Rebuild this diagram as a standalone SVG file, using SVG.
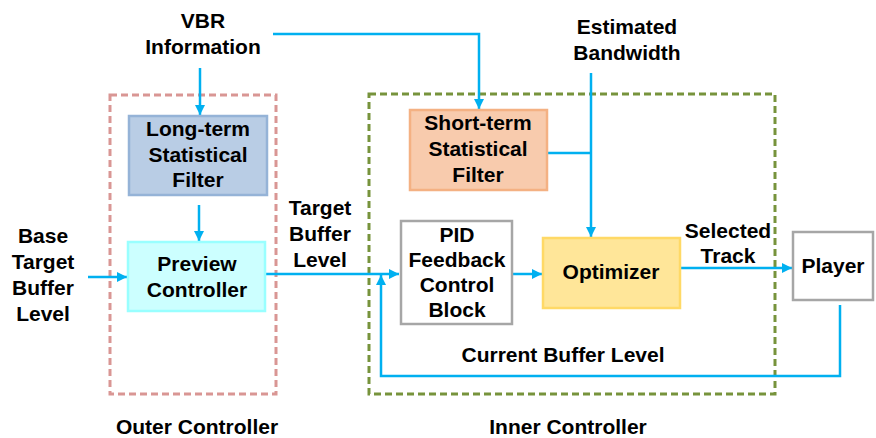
<svg xmlns="http://www.w3.org/2000/svg" width="876" height="438" viewBox="0 0 876 438">
<defs>
<marker id="arr" viewBox="0 0 10 10" refX="10" refY="5" markerWidth="10" markerHeight="11" markerUnits="userSpaceOnUse" orient="auto">
<path d="M0,0 L10,5 L0,10 z" fill="#00B0F0"/>
</marker>
<style>
text{font-family:"Liberation Sans",Arial,sans-serif;font-weight:bold;font-size:21px;fill:#000;text-anchor:middle}
.c{fill:none;stroke:#00B0F0;stroke-width:2.5}
.box{stroke-width:2.5}
</style>
</defs>
<rect width="876" height="438" fill="#fff"/>
<g id="outer-controller">
<rect x="110" y="95" width="166" height="299" fill="none" stroke="#D99694" stroke-width="3" stroke-dasharray="7,4"/>
<text x="197" y="434">Outer Controller</text>
</g>
<g id="inner-controller">
<rect x="369" y="94" width="406" height="300" fill="none" stroke="#77933C" stroke-width="3" stroke-dasharray="7,4"/>
<text x="568" y="434">Inner Controller</text>
</g>
<g id="connectors">
<path class="c" d="M200,68 V115" marker-end="url(#arr)"/>
<path class="c" d="M273,34 H479 V109" marker-end="url(#arr)"/>
<path class="c" d="M199,205 V241" marker-end="url(#arr)"/>
<path class="c" d="M88,277 H127" marker-end="url(#arr)"/>
<path class="c" d="M265,274 H399" marker-end="url(#arr)"/>
<path class="c" d="M512,274 H542" marker-end="url(#arr)"/>
<path class="c" d="M591,73 V237" marker-end="url(#arr)"/>
<path class="c" d="M547,153 H591"/>
<path class="c" d="M680,268 H792" marker-end="url(#arr)"/>
<path class="c" d="M840,305 V376 H381 V275" marker-end="url(#arr)"/>
</g>
<g id="vbr-info">
<text x="203" y="28">VBR</text>
<text x="203" y="54">Information</text>
</g>
<g id="estimated-bandwidth">
<text x="627" y="34">Estimated</text>
<text x="627" y="60">Bandwidth</text>
</g>
<g id="base-target">
<text x="43" y="243">Base</text>
<text x="43" y="269">Target</text>
<text x="43" y="295">Buffer</text>
<text x="43" y="321">Level</text>
</g>
<g id="target-buffer-label">
<text x="320" y="215">Target</text>
<text x="320" y="241">Buffer</text>
<text x="320" y="267">Level</text>
</g>
<g id="selected-track-label">
<text x="728" y="238">Selected</text>
<text x="728" y="263">Track</text>
</g>
<g id="current-buffer-label">
<text x="563" y="362">Current Buffer Level</text>
</g>
<g id="long-term-filter">
<rect class="box" x="129" y="116" width="138" height="79" fill="#B9CDE5" stroke="#95B3D7"/>
<text x="198" y="136">Long-term</text>
<text x="198" y="162">Statistical</text>
<text x="198" y="187">Filter</text>
</g>
<g id="preview-controller">
<rect class="box" x="128" y="242" width="137" height="69" fill="#CCFFFF" stroke="#99FFFF"/>
<text x="197" y="271">Preview</text>
<text x="197" y="297">Controller</text>
</g>
<g id="short-term-filter">
<rect class="box" x="410" y="110" width="137" height="80" fill="#F8CBAD" stroke="#F4B183"/>
<text x="478" y="130">Short-term</text>
<text x="478" y="156">Statistical</text>
<text x="478" y="182">Filter</text>
</g>
<g id="pid-block">
<rect class="box" x="401" y="221" width="111" height="103" fill="#fff" stroke="#A6A6A6"/>
<text x="457" y="242">PID</text>
<text x="457" y="267">Feedback</text>
<text x="457" y="292">Control</text>
<text x="457" y="317">Block</text>
</g>
<g id="optimizer">
<rect class="box" x="543" y="238" width="137" height="70" fill="#FFE699" stroke="#FFD966"/>
<text x="611" y="279">Optimizer</text>
</g>
<g id="player">
<rect class="box" x="793" y="232" width="80" height="68" fill="#fff" stroke="#A6A6A6"/>
<text x="833" y="273">Player</text>
</g>
</svg>
